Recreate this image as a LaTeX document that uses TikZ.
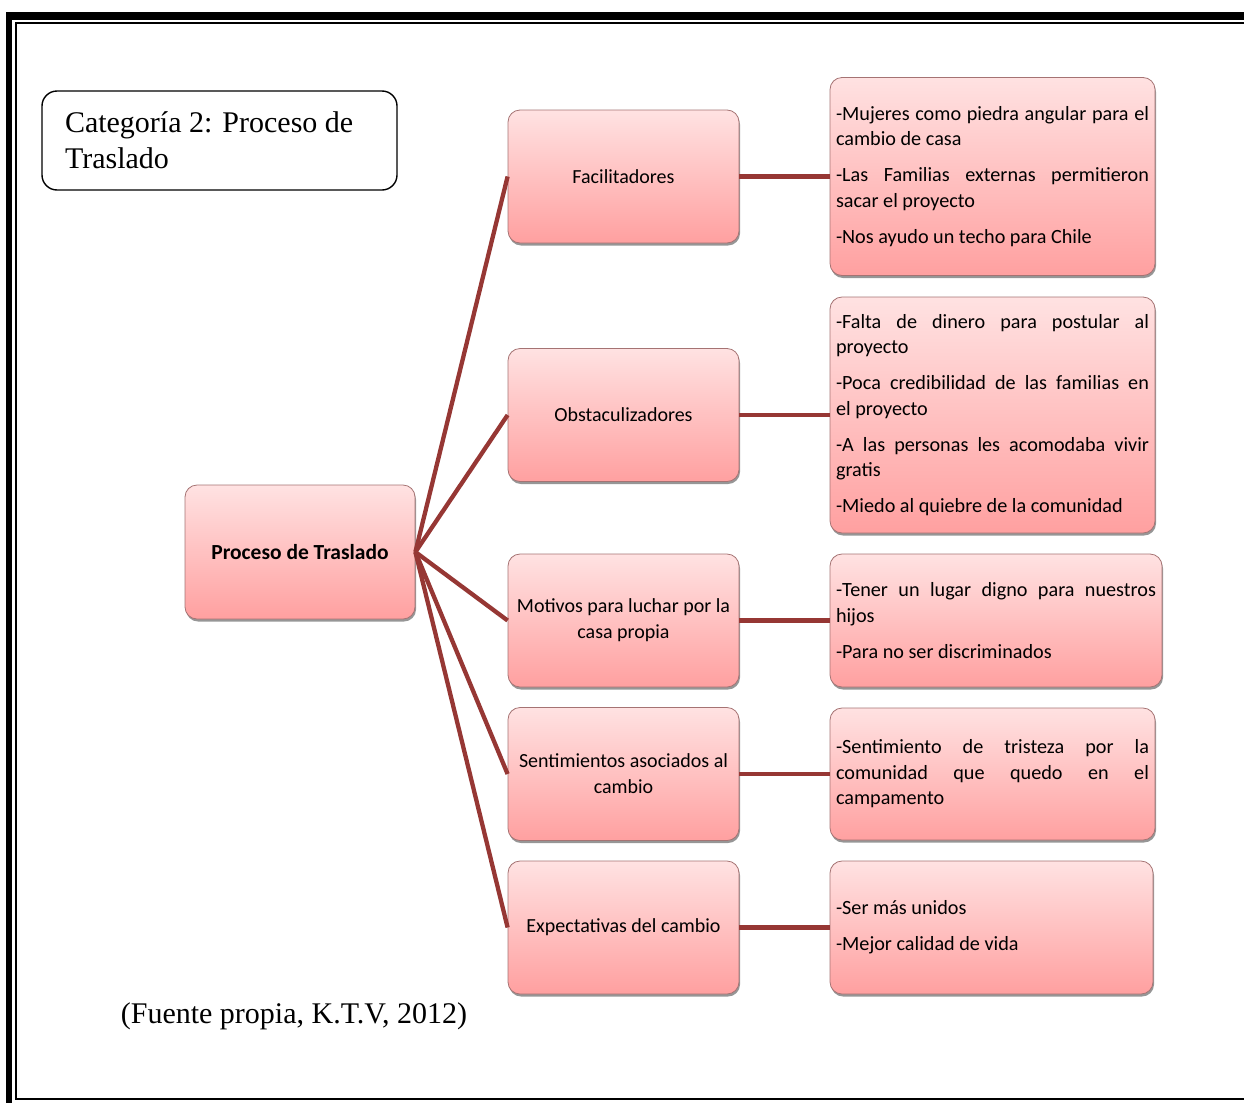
\documentclass[tikz,border=0pt]{standalone}
\usepackage{fontspec}
\setmainfont{Liberation Serif}
\newfontfamily\calfont{Carlito}
\usetikzlibrary{shadows}
\definecolor{pinktop}{RGB}{255,226,226}
\definecolor{pinkbot}{RGB}{255,160,160}
\definecolor{boxedge}{RGB}{165,115,115}
\definecolor{connred}{RGB}{150,55,52}
\newcommand\rsetup{\setlength{\parindent}{0pt}\setlength{\parskip}{10.5pt}}
\tikzset{
  pinkbox/.style={rounded corners=12pt, draw=boxedge, line width=0.8pt,
    top color=pinktop, bottom color=pinkbot,
    drop shadow={shadow xshift=1pt, shadow yshift=-2.5pt, opacity=0.55, fill=black!75},
    text=black},
  midbox/.style={pinkbox, minimum width=231pt, minimum height=133pt, inner sep=4pt,
    align=flush center, text width=223pt, font=\calfont\fontsize{20}{26}\selectfont},
  rootbox/.style={pinkbox, minimum width=230pt, minimum height=134pt, inner sep=4pt,
    align=center, font=\calfont\bfseries\fontsize{21.5}{26}\selectfont},
  rbox/.style={pinkbox, inner xsep=6pt, inner ysep=4pt, align=justify,
    font=\calfont\fontsize{20.2}{25.5}\selectfont},
  catbox/.style={draw=black, line width=1.4pt, rounded corners=15pt,
    minimum width=355pt, minimum height=99pt, inner xsep=23pt, align=flush left,
    text width=309pt, font=\fontsize{30}{36}\selectfont},
  conn/.style={draw=connred, line width=4.3pt}
}
\begin{document}
\begin{tikzpicture}[x=1pt,y=-1pt]
\useasboundingbox (0,0) rectangle (1244,1103);
% frame
\fill[black] (6,12) rectangle (1244,20);
\fill[black] (6,12) rectangle (12,1103);
\draw[black, line width=1.8pt] (1244,23) -- (16,23) -- (16,1099) -- (1244,1099);

% category title
\node[catbox] (cat) at (219.5,140.5) {Categoría 2: Proceso de\\Traslado};

% root
\node[rootbox] (root) at (300,552) {Proceso de Traslado};

% middle level
\node[midbox] (m1) at (623.5,176.5) {Facilitadores};
\node[midbox] (m2) at (623.5,415) {Obstaculizadores};
\node[midbox] (m3) at (623.5,620.5) {Motivos para luchar por la\\casa propia};
\node[midbox] (m4) at (623.5,774) {Sentimientos asociados al\\cambio};
\node[midbox] (m5) at (623.5,927.5) {Expectativas del cambio};

% right level
\node[rbox, minimum width=325pt, minimum height=198pt, text width=313pt] (r1) at (992.5,176.5)
  {\rsetup -Mujeres como piedra angular para el\linebreak cambio de casa\par
   -Las Familias externas permitieron\linebreak sacar el proyecto\par
   -Nos ayudo un techo para Chile};
\node[rbox, minimum width=325pt, minimum height=236pt, text width=313pt] (r2) at (992.5,415)
  {\rsetup -Falta de dinero para postular al\linebreak proyecto\par
   -Poca credibilidad de las familias en\linebreak el proyecto\par
   -A las personas les acomodaba vivir\linebreak gratis\par
   -Miedo al quiebre de la comunidad};
\node[rbox, minimum width=332pt, minimum height=133pt, text width=320pt] (r3) at (996,620.5)
  {\rsetup -Tener un lugar digno para nuestros\linebreak hijos\par
   -Para no ser discriminados};
\node[rbox, minimum width=325pt, minimum height=132pt, text width=313pt] (r4) at (992.5,774)
  {\rsetup -Sentimiento de tristeza por la\linebreak comunidad que quedo en el\linebreak campamento};
\node[rbox, minimum width=323pt, minimum height=133pt, text width=311pt] (r5) at (991.5,927.5)
  {\rsetup -Ser más unidos\par
   -Mejor calidad de vida};

% connectors
\foreach \m in {m1,m2,m3,m4,m5}{
  \draw[conn] (root.east) -- (\m.west);
}
\draw[conn] (m1.east) -- (r1.west);
\draw[conn] (m2.east) -- (r2.west);
\draw[conn] (m3.east) -- (r3.west);
\draw[conn] (m4.east) -- (r4.west);
\draw[conn] (m5.east) -- (r5.west);

% source
\node[font=\fontsize{30}{36}\selectfont] (src) at (294,1016) {(Fuente propia, K.T.V, 2012)};
\end{tikzpicture}
\end{document}
